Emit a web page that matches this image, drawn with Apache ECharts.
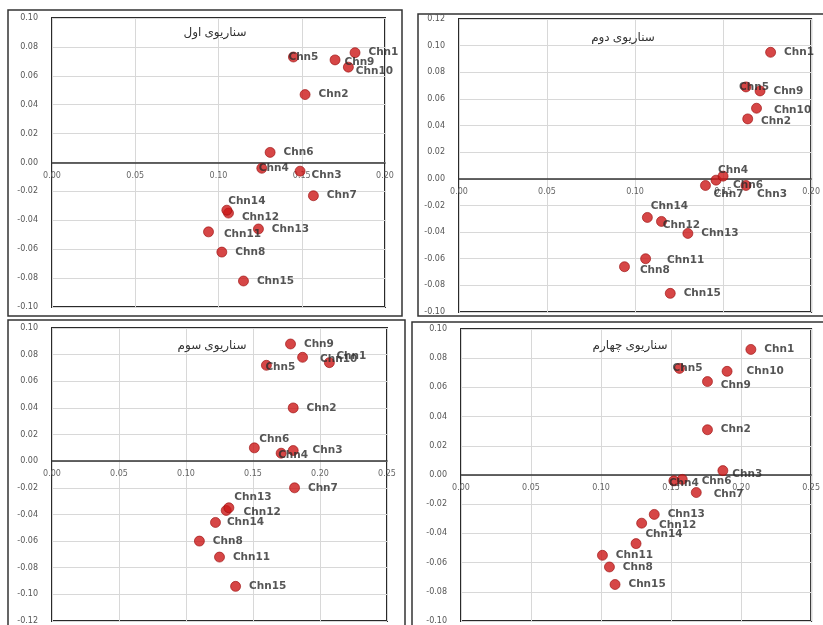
<!DOCTYPE html>
<html><head><meta charset="utf-8">
<script src="https://cdn.jsdelivr.net/npm/echarts@6/dist/echarts.min.js"></script>
<style>html,body{margin:0;padding:0;background:#fff}#c{width:823px;height:625px}</style>
</head><body><div id="c"></div>
<script>
const names = ['Chn1','Chn2','Chn3','Chn4','Chn5','Chn6','Chn7','Chn8','Chn9','Chn10','Chn11','Chn12','Chn13','Chn14','Chn15'];
const titles = ['سناریوی اول','سناریوی دوم','سناریوی سوم','سناریوی چهارم'];
// scenario 1
const s1x = [0.182,0.152,0.149,0.126,0.145,0.131,0.157,0.102,0.170,0.178,0.094,0.106,0.124,0.105,0.115];
const s1y = [0.076,0.047,-0.006,-0.004,0.073,0.007,-0.023,-0.062,0.071,0.066,-0.048,-0.035,-0.046,-0.033,-0.082];
// scenario 2
const s2x = [0.177,0.164,0.146,0.150,0.163,0.163,0.140,0.094,0.171,0.169,0.106,0.115,0.130,0.107,0.120];
const s2y = [0.095,0.045,-0.001,0.002,0.069,-0.005,-0.005,-0.066,0.066,0.053,-0.060,-0.032,-0.041,-0.029,-0.086];
// scenario 3
const s3x = [0.207,0.180,0.180,0.171,0.160,0.151,0.181,0.110,0.178,0.187,0.125,0.130,0.132,0.122,0.137];
const s3y = [0.074,0.040,0.008,0.006,0.072,0.010,-0.020,-0.060,0.088,0.078,-0.072,-0.037,-0.035,-0.046,-0.094];
// scenario 4
const s4x = [0.207,0.176,0.187,0.152,0.156,0.158,0.168,0.106,0.176,0.190,0.101,0.129,0.138,0.125,0.110];
const s4y = [0.086,0.031,0.003,-0.004,0.073,-0.003,-0.012,-0.063,0.064,0.071,-0.055,-0.033,-0.027,-0.047,-0.075];
// axis ranges
const xMax = [0.20,0.20,0.25,0.25];
const yMin = [-0.10,-0.10,-0.12,-0.10];
const yMax = [0.10,0.12,0.10,0.10];

const X = [s1x,s2x,s3x,s4x], Y = [s1y,s2y,s3y,s4y];
const grids = [
  {left:52, top:18, width:333, height:289},
  {left:459, top:19, width:354, height:293},
  {left:52, top:328, width:335, height:293},
  {left:461, top:329, width:356, height:292}
];
const titlePos = [[215,33],[623,38],[212,346],[630,346]];
// label placement tweaks (style only)
const labelPos = [
  {'Chn5':['inside',[10,0]], 'Chn9':['right',[-4,2]], 'Chn10':['right',[-6,4]], 'Chn4':['inside',[12,0]], 'Chn3':['right',[-2,4]], 'Chn14':['top',[20,10]], 'Chn12':['right',[0,4]], 'Chn13':['right',[0,0]], 'Chn11':['right',[2,2]]},
  {'Chn5':['inside',[8,0]], 'Chn4':['inside',[10,-6]], 'Chn6':['inside',[2,0]], 'Chn3':['inside',[56,14]], 'Chn7':['inside',[23,9]], 'Chn14':['top',[22,8]], 'Chn12':['right',[-12,4]], 'Chn8':['right',[2,4]], 'Chn11':['right',[8,2]], 'Chn10':['right',[4,2]], 'Chn2':['right',[0,2]]},
  {'Chn5':['inside',[14,2]], 'Chn10':['right',[4,2]], 'Chn1':['inside',[22,-6]], 'Chn6':['top',[20,10]], 'Chn4':['inside',[12,2]], 'Chn3':['right',[6,0]], 'Chn13':['top',[24,8]], 'Chn12':['right',[4,2]], 'Chn14':['right',[-2,0]]},
  {'Chn5':['inside',[8,0]], 'Chn9':['right',[0,4]], 'Chn10':['right',[6,0]], 'Chn3':['right',[-4,4]], 'Chn4':['inside',[10,2]], 'Chn6':['right',[6,2]], 'Chn7':['right',[4,2]], 'Chn14':['top',[28,10]], 'Chn12':['right',[4,2]]}
];

const option = {
  animation:false,
  grid: grids.map(g => Object.assign({show:true, borderColor:'#2a2a2a', borderWidth:2, backgroundColor:'#fff'}, g)),
  xAxis: grids.map((g,i) => ({
    gridIndex:i, type:'value', min:0, max:xMax[i], interval:0.05, position:'bottom',
    offset: -g.height * (0 - yMin[i]) / (yMax[i] - yMin[i]),
    axisLine:{onZero:false, lineStyle:{color:'#333', width:1.5}},
    axisTick:{show:false},
    axisLabel:{color:'#666', fontSize:8, fontFamily:'DejaVu Sans', formatter:v=>v.toFixed(2), margin:9},
    splitLine:{show:true, lineStyle:{color:'#d8d8d8'}}
  })),
  yAxis: grids.map((g,i) => ({
    gridIndex:i, type:'value', min:yMin[i], max:yMax[i], interval:0.02,
    axisLine:{show:false}, axisTick:{show:false},
    axisLabel:{color:'#555', fontSize:8, fontFamily:'DejaVu Sans', formatter:v=>v.toFixed(2), margin:14},
    splitLine:{show:true, lineStyle:{color:'#d8d8d8'}}
  })),
  series: X.map((xs,i) => ({
    type:'scatter', xAxisIndex:i, yAxisIndex:i, symbolSize:10, z:5,
    itemStyle:{color:'#cc1818', borderColor:'#9a0e0e', borderWidth:0.8},
    data: xs.map((x,k) => {
      const p = labelPos[i][names[k]];
      const d = {value:[x, Y[i][k]], name:names[k]};
      if (p) d.label = {position:p[0], offset:p[1]};
      return d;
    }),
    label:{show:true, position:'right', distance:8, formatter:'{b}', color:'#2a2a2a', fontSize:10.5, fontWeight:'bold', fontFamily:'DejaVu Sans'}
  })),
  graphic: [
    {type:'rect', shape:{x:8,y:10,width:394,height:306}, style:{fill:'none', stroke:'#333', lineWidth:1.5}, z:-10},
    {type:'rect', shape:{x:418,y:14,width:410,height:302}, style:{fill:'none', stroke:'#333', lineWidth:1.5}, z:-10},
    {type:'rect', shape:{x:8,y:320,width:397,height:310}, style:{fill:'none', stroke:'#333', lineWidth:1.5}, z:-10},
    {type:'rect', shape:{x:412,y:322,width:416,height:310}, style:{fill:'none', stroke:'#333', lineWidth:1.5}, z:-10}
  ].concat(titlePos.map((p,i) => ({
    type:'text', x:p[0], y:p[1], z:100,
    style:{text:titles[i], fill:'#333', font:'12px "Noto Sans", "DejaVu Sans", sans-serif', textAlign:'center', textVerticalAlign:'middle'}
  })))
};
const chart = echarts.init(document.getElementById('c'), null, {renderer:'canvas'});
chart.setOption(option);
</script></body></html>
